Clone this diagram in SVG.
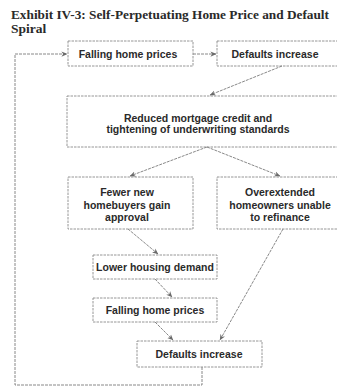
<svg xmlns="http://www.w3.org/2000/svg" width="337" height="387" viewBox="0 0 337 387">
<style>
.box{fill:none;stroke:#8a8a8a;stroke-width:0.9;stroke-dasharray:2.5,1}
.lbl{font-family:"Liberation Sans",Arial,sans-serif;font-weight:bold;font-size:10.5px;fill:#2a2a2a;text-anchor:middle}
.ttl{font-family:"Liberation Serif","Times New Roman",serif;font-weight:bold;font-size:13.5px;fill:#2a2a2a}
.con{fill:none;stroke:#7a7a7a;stroke-width:0.9;stroke-dasharray:3,1}
</style>
<defs>
<marker id="ah" viewBox="0 0 8 8" refX="7.5" refY="4" markerWidth="6" markerHeight="6" orient="auto" markerUnits="userSpaceOnUse">
<path d="M0,0.5 L8,4 L0,7.5 L2.5,4 Z" fill="#6a6a6a"/>
</marker>
</defs>
<rect width="337" height="387" fill="#ffffff"/>
<g id="title">
<text class="ttl" x="11" y="19" textLength="318" lengthAdjust="spacingAndGlyphs">Exhibit IV-3: Self-Perpetuating Home Price and Default</text>
<text class="ttl" x="11" y="33">Spiral</text>
</g>
<g id="connectors">
<path class="con" d="M202,367 V385 H15 V54 H67" marker-end="url(#ah)"/>
<path class="con" d="M193,54 H216" marker-end="url(#ah)"/>
<path class="con" d="M282,66 L210,95" marker-end="url(#ah)"/>
<path class="con" d="M207,147 L130,176" marker-end="url(#ah)"/>
<path class="con" d="M207,147 L280,176" marker-end="url(#ah)"/>
<path class="con" d="M128,229 L158,254" marker-end="url(#ah)"/>
<path class="con" d="M155,279 L172,297" marker-end="url(#ah)"/>
<path class="con" d="M283,229 L220,340" marker-end="url(#ah)"/>
<path class="con" d="M155,322 L173,340" marker-end="url(#ah)"/>
</g>
<g id="fall1">
<rect class="box" x="68" y="41" width="125" height="25"/>
<text class="lbl" x="128" y="57.5">Falling home prices</text>
</g>
<g id="def1">
<rect class="box" x="217" y="41" width="125" height="25"/>
<text class="lbl" x="275" y="57.5">Defaults increase</text>
</g>
<g id="reduced">
<rect class="box" x="67" y="96" width="275" height="51"/>
<text class="lbl" x="198" y="122">Reduced mortgage credit and</text>
<text class="lbl" x="198" y="133">tightening of underwriting standards</text>
</g>
<g id="fewer">
<rect class="box" x="68" y="177" width="125" height="52"/>
<text class="lbl" x="127" y="196">Fewer new</text>
<text class="lbl" x="127" y="208.5">homebuyers gain</text>
<text class="lbl" x="127" y="221">approval</text>
</g>
<g id="over">
<rect class="box" x="217" y="177" width="125" height="52"/>
<text class="lbl" x="280" y="196">Overextended</text>
<text class="lbl" x="280" y="208.5">homeowners unable</text>
<text class="lbl" x="280" y="221">to refinance</text>
</g>
<g id="lower">
<rect class="box" x="93" y="255" width="124" height="24"/>
<text class="lbl" x="155" y="271">Lower housing demand</text>
</g>
<g id="fall2">
<rect class="box" x="93" y="298" width="124" height="24"/>
<text class="lbl" x="155" y="314">Falling home prices</text>
</g>
<g id="def2">
<rect class="box" x="137" y="341" width="125" height="26"/>
<text class="lbl" x="199" y="358">Defaults increase</text>
</g>
</svg>
